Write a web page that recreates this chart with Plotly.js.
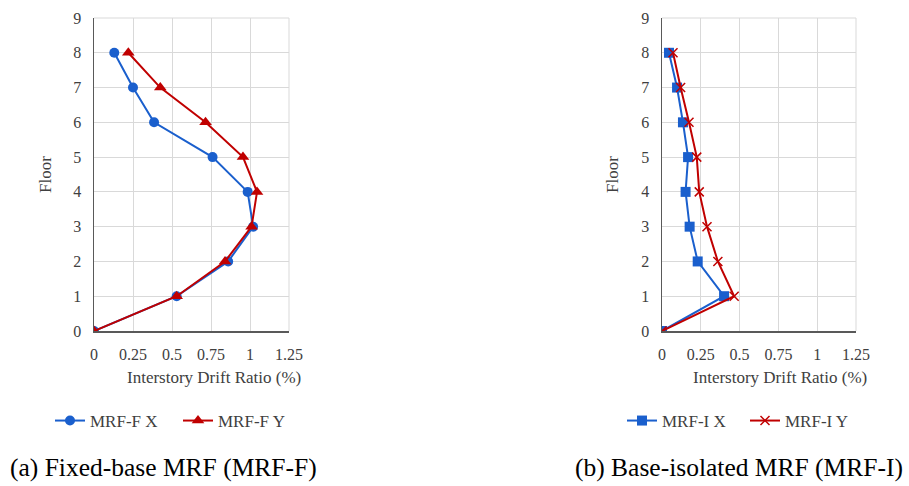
<!DOCTYPE html>
<html>
<head>
<meta charset="utf-8">
<script src="https://cdn.plot.ly/plotly-3.0.1.min.js"></script>
<style>html,body{margin:0;padding:0;background:#fff}#chart{width:909px;height:486px}</style>
</head>
<body>
<div id="chart"></div>
<script>
const floors = [0, 1, 2, 3, 4, 5, 6, 7, 8];
const mrfFX = [0, 0.53, 0.86, 1.02, 0.985, 0.76, 0.385, 0.25, 0.13];
const mrfFY = [0, 0.53, 0.84, 1.01, 1.045, 0.955, 0.715, 0.425, 0.22];
const mrfIX = [0, 0.40, 0.23, 0.178, 0.152, 0.168, 0.135, 0.097, 0.045];
const mrfIY = [0, 0.465, 0.36, 0.29, 0.24, 0.224, 0.174, 0.12, 0.071];
const xTicks = [0, 0.25, 0.5, 0.75, 1, 1.25];
const xTickText = ['0', '0.25', '0.5', '0.75', '1', '1.25'];
const names = ['MRF-F X', 'MRF-F Y', 'MRF-I X', 'MRF-I Y'];
const captions = ['(a) Fixed-base MRF (MRF-F)', '(b) Base-isolated MRF (MRF-I)'];
const xTitle = 'Interstory Drift Ratio (%)';
const yTitle = 'Floor';

const BLUE = '#1a5fcd';
const RED = '#c00000';
const FONT = 'Liberation Serif';
const TXT = '#404040';

const traces = [
  {x: mrfFX, y: floors, name: names[0], mode: 'lines+markers', xaxis: 'x', yaxis: 'y', legend: 'legend',
   line: {color: BLUE, width: 2}, marker: {symbol: 'circle', size: 10, color: BLUE}},
  {x: mrfFY, y: floors, name: names[1], mode: 'lines+markers', xaxis: 'x', yaxis: 'y', legend: 'legend',
   line: {color: RED, width: 2}, marker: {symbol: 'triangle-up', size: 11, color: RED}},
  {x: mrfIX, y: floors, name: names[2], mode: 'lines+markers', xaxis: 'x2', yaxis: 'y2', legend: 'legend2',
   line: {color: BLUE, width: 2}, marker: {symbol: 'square', size: 10, color: BLUE}},
  {x: mrfIY, y: floors, name: names[3], mode: 'lines+markers', xaxis: 'x2', yaxis: 'y2', legend: 'legend2',
   line: {color: RED, width: 2}, marker: {symbol: 'x-thin', size: 9, color: RED, line: {color: RED, width: 1.5}}}
];

function xa(domain, anchor) {
  return {domain: domain, anchor: anchor, range: [0, 1.25], tickvals: xTicks, ticktext: xTickText,
    showgrid: true, gridcolor: '#d9d9d9', gridwidth: 1, zeroline: false,
    showline: true, linecolor: '#595959', linewidth: 1.5, mirror: false,
    ticks: 'outside', ticklen: 8, tickcolor: 'rgba(0,0,0,0)',
    tickfont: {family: FONT, size: 16, color: TXT}, fixedrange: true};
}
function ya(anchor) {
  return {domain: [1 - 331/486, 1 - 18/486], anchor: anchor, range: [0, 9], dtick: 1, tick0: 0,
    showgrid: true, gridcolor: '#d9d9d9', gridwidth: 1, zeroline: false,
    showline: true, linecolor: '#595959', linewidth: 1.5,
    ticks: 'outside', ticklen: 8, tickcolor: 'rgba(0,0,0,0)',
    tickfont: {family: FONT, size: 16, color: TXT}, fixedrange: true};
}

const legendFont = {family: FONT, size: 17, color: TXT};

const layout = {
  width: 909, height: 486,
  margin: {l: 0, r: 0, t: 0, b: 0, autoexpand: false},
  paper_bgcolor: '#fff', plot_bgcolor: '#fff',
  font: {family: FONT, color: TXT},
  xaxis: xa([94/909, 289/909], 'y'),
  yaxis: ya('x'),
  xaxis2: xa([662/909, 856/909], 'y2'),
  yaxis2: ya('x2'),
  shapes: [
    {type: 'line', xref: 'x domain', yref: 'y domain', x0: 1, x1: 1, y0: 0, y1: 1, line: {color: '#d9d9d9', width: 1}, layer: 'below'},
    {type: 'line', xref: 'x domain', yref: 'y domain', x0: 0, x1: 1, y0: 1, y1: 1, line: {color: '#d9d9d9', width: 1}, layer: 'below'},
    {type: 'line', xref: 'x2 domain', yref: 'y2 domain', x0: 1, x1: 1, y0: 0, y1: 1, line: {color: '#d9d9d9', width: 1}, layer: 'below'},
    {type: 'line', xref: 'x2 domain', yref: 'y2 domain', x0: 0, x1: 1, y0: 1, y1: 1, line: {color: '#d9d9d9', width: 1}, layer: 'below'}
  ],
  legend: {orientation: 'h', x: 50/909, xanchor: 'left', y: 1 - 421/486, yanchor: 'middle',
    font: legendFont, bgcolor: 'rgba(0,0,0,0)', itemwidth: 30, entrywidth: 83, entrywidthmode: 'pixels'},
  legend2: {orientation: 'h', x: 622/909, xanchor: 'left', y: 1 - 421/486, yanchor: 'middle',
    font: legendFont, bgcolor: 'rgba(0,0,0,0)', itemwidth: 30, entrywidth: 78, entrywidthmode: 'pixels'},
  annotations: [
    {text: yTitle, xref: 'paper', yref: 'paper', x: 45/909, y: 1 - 175/486, textangle: -90, showarrow: false,
     xanchor: 'center', yanchor: 'middle', font: {family: FONT, size: 17, color: TXT}},
    {text: yTitle, xref: 'paper', yref: 'paper', x: 612/909, y: 1 - 175/486, textangle: -90, showarrow: false,
     xanchor: 'center', yanchor: 'middle', font: {family: FONT, size: 17, color: TXT}},
    {text: xTitle, xref: 'paper', yref: 'paper', x: 214/909, y: 1 - 377/486, showarrow: false,
     xanchor: 'center', yanchor: 'middle', font: {family: FONT, size: 17, color: TXT}},
    {text: xTitle, xref: 'paper', yref: 'paper', x: 780/909, y: 1 - 377/486, showarrow: false,
     xanchor: 'center', yanchor: 'middle', font: {family: FONT, size: 17, color: TXT}},
    {text: captions[0], xref: 'paper', yref: 'paper', x: 8/909, y: 1 - 467/486, showarrow: false,
     xanchor: 'left', yanchor: 'middle', font: {family: FONT, size: 25.5, color: '#000'}},
    {text: captions[1], xref: 'paper', yref: 'paper', x: 905/909, y: 1 - 467/486, showarrow: false,
     xanchor: 'right', yanchor: 'middle', font: {family: FONT, size: 25.5, color: '#000'}}
  ],
  showlegend: true
};

Plotly.newPlot('chart', traces, layout, {staticPlot: true, displayModeBar: false});
</script>
</body>
</html>
